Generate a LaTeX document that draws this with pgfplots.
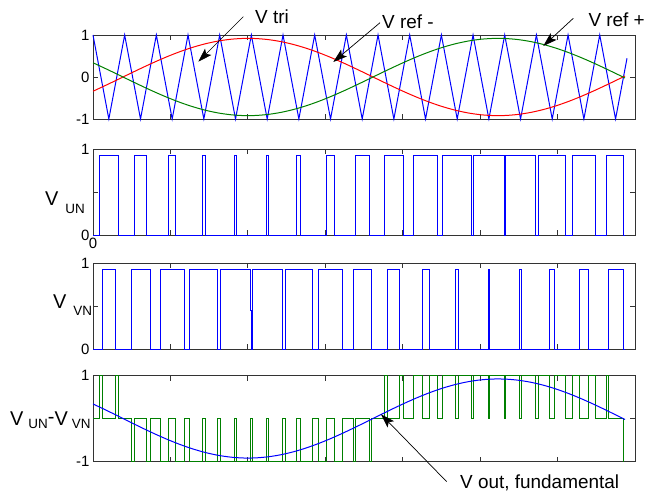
\documentclass[border=0pt]{standalone}
\usepackage{fontspec}
\setmainfont{Liberation Sans}
\usepackage{pgfplots}
\pgfplotsset{compat=1.18}
\usetikzlibrary{arrows.meta}

\definecolor{mblue}{RGB}{0,0,255}
\definecolor{mred}{RGB}{255,0,0}
\definecolor{mgreen}{RGB}{0,128,0}

% switching waveforms of a single-phase PWM bridge
\pgfplotsset{
  panel/.style={
    anchor=north west,
    width=542bp, scale only axis,
    xmin=0, xmax=542,
    xtick={0,77.43,154.86,232.29,309.71,387.14,464.57,542},
    xticklabels={},
    tick pos=both, tick align=inside,
    major tick length=5bp,
    axis line style={line width=0.8bp, black!80},
    every tick/.style={black!80, line width=0.8bp},
    ticklabel style={font=\fontsize{15}{18}\selectfont},
    /pgf/number format/assume math mode=true,
    clip=false,
  },
  sig/.style={line width=1bp},
}

\begin{document}
\begin{tikzpicture}
\useasboundingbox (0,0) rectangle (647bp,-491bp);

% ---- carrier and references ----
\begin{axis}[panel, at={(93bp,-35bp)}, height=84bp,
  ymin=-1, ymax=1, ytick={-1,0,1}, yticklabels={-1,0,1}]
\addplot[sig, mblue] coordinates {
 (0,1) (15.835,-1) (31.67,1) (47.505,-1) (63.34,1) (79.175,-1) (95.01,1)
 (110.845,-1) (126.68,1) (142.515,-1) (158.35,1) (174.185,-1) (190.02,1)
 (205.855,-1) (221.69,1) (237.525,-1) (253.36,1) (269.195,-1) (285.03,1)
 (300.865,-1) (316.70,1) (332.535,-1) (348.37,1) (364.205,-1) (380.04,1)
 (395.875,-1) (411.71,1) (427.545,-1) (443.38,1) (459.215,-1) (475.05,1)
 (490.885,-1) (506.72,1) (522.555,-1) (534,0.4455)};
\addplot[sig, mred, smooth] coordinates {
 (0,-0.3387) (12.5,-0.2007) (25,-0.0578) (37.5,0.0866) (50,0.2288) (62.5,0.3653)
 (75,0.4929) (87.5,0.6084) (100,0.7089) (112.5,0.7918) (125,0.8554) (137.5,0.8978)
 (150,0.9182) (162.5,0.9159) (175,0.8911) (187.5,0.8444) (200,0.7768) (212.5,0.6901)
 (225,0.5864) (237.5,0.4683) (250,0.3387) (262.5,0.2007) (275,0.0578) (287.5,-0.0866)
 (300,-0.2288) (312.5,-0.3653) (325,-0.4929) (337.5,-0.6084) (350,-0.7089) (362.5,-0.7918)
 (375,-0.8554) (387.5,-0.8978) (400,-0.9182) (412.5,-0.9159) (425,-0.8911) (437.5,-0.8444)
 (450,-0.7768) (462.5,-0.6901) (475,-0.5864) (487.5,-0.4683) (500,-0.3387) (512.5,-0.2007)
 (525,-0.0578) (532,0.0231)};
\addplot[sig, mgreen, smooth] coordinates {
 (0,0.3387) (12.5,0.2007) (25,0.0578) (37.5,-0.0866) (50,-0.2288) (62.5,-0.3653)
 (75,-0.4929) (87.5,-0.6084) (100,-0.7089) (112.5,-0.7918) (125,-0.8554) (137.5,-0.8978)
 (150,-0.9182) (162.5,-0.9159) (175,-0.8911) (187.5,-0.8444) (200,-0.7768) (212.5,-0.6901)
 (225,-0.5864) (237.5,-0.4683) (250,-0.3387) (262.5,-0.2007) (275,-0.0578) (287.5,0.0866)
 (300,0.2288) (312.5,0.3653) (325,0.4929) (337.5,0.6084) (350,0.7089) (362.5,0.7918)
 (375,0.8554) (387.5,0.8978) (400,0.9182) (412.5,0.9159) (425,0.8911) (437.5,0.8444)
 (450,0.7768) (462.5,0.6901) (475,0.5864) (487.5,0.4683) (500,0.3387) (512.5,0.2007)
 (525,0.0578) (532,-0.0231)};
\end{axis}

% ---- leg U ----
\begin{axis}[panel, at={(93bp,-149bp)}, height=86bp,
  ymin=0, ymax=1, ytick={0,0.5,1}, yticklabels={0,,1},
  xticklabels={0,,,,,,,}]
\addplot[sig, mblue, const plot] coordinates {
 (0,0) (6.63,0.92) (25.04,0) (41.18,0.92) (53.83,0) (75.48,0.92) (82.87,0)
 (109.12,0.92) (112.57,0) (141.79,0.92) (143.24,0) (173.34,0.92) (175.03,0)
 (203.78,0.92) (207.93,0) (233.31,0.92) (241.74,0) (262.26,0.92) (276.13,0)
 (291.06,0.92) (310.67,0) (320.16,0.92) (344.91,0) (349.94,0.92) (378.47,0)
 (380.73,0.92) (411.03,0) (412.64,0.92) (442.45,0) (445.64,0.92) (472.79,0)
 (479.54,0.92) (502.24,0) (513.95,0.92) (530.5,0) (532,0)};
\end{axis}

% ---- leg V ----
\begin{axis}[panel, at={(93bp,-263bp)}, height=86bp,
  ymin=0, ymax=1, ytick={0,0.5,1}, yticklabels={0,,1}]
\addplot[sig, mblue, const plot] coordinates {
 (0,0) (9.21,0.92) (22.46,0) (38.00,0.92) (57.01,0) (67.04,0.92) (91.31,0)
 (96.74,0.92) (124.95,0) (127.40,0.92) (157.63,0.45) (158.3,0) (159.19,0.92)
 (189.18,0) (192.09,0.92) (219.62,0) (225.90,0.92) (249.15,0) (260.29,0.92)
 (278.10,0) (294.83,0.92) (306.90,0) (329.07,0.92) (336.00,0) (362.64,0.92)
 (365.77,0) (395.19,0.92) (396.56,0) (426.62,0.92) (428.47,0) (456.96,0.92)
 (461.47,0) (486.40,0.92) (495.37,0) (515.33,0.92) (530.2,0) (532,0)};
\end{axis}

% ---- output voltage ----
\begin{axis}[panel, at={(93bp,-375.5bp)}, height=86bp,
  ymin=-1, ymax=1, ytick={-1,0,1}, yticklabels={-1,,1}]
\addplot[sig, mgreen, const plot] coordinates {
 (0,0) (6.63,1) (9.21,0) (22.46,1) (25.04,0) (38.00,-1) (41.18,0) (53.83,-1)
 (57.01,0) (67.04,-1) (75.48,0) (82.87,-1) (91.31,0) (96.74,-1) (109.12,0)
 (112.57,-1) (124.95,0) (127.40,-1) (141.79,0) (143.24,-1) (157.63,0) (159.19,-1)
 (173.34,0) (175.03,-1) (189.18,0) (192.09,-1) (203.78,0) (207.93,-1) (219.62,0)
 (225.90,-1) (233.31,0) (241.74,-1) (249.15,0) (260.29,-1) (262.26,0) (276.13,-1)
 (278.10,0) (291.06,1) (294.83,0) (306.90,1) (310.67,0) (320.16,1) (329.07,0)
 (336.00,1) (344.91,0) (349.94,1) (362.64,0) (365.77,1) (378.47,0) (380.73,1)
 (395.19,0) (396.56,1) (411.03,0) (412.64,1) (426.62,0) (428.47,1) (442.45,0)
 (445.64,1) (456.96,0) (461.47,1) (472.79,0) (479.54,1) (486.40,0) (495.37,1)
 (502.24,0) (513.95,1) (515.33,0) (530.3,-1)};
\addplot[sig, mblue, smooth] coordinates {
 (0,0.3387) (12.5,0.2007) (25,0.0578) (37.5,-0.0866) (50,-0.2288) (62.5,-0.3653)
 (75,-0.4929) (87.5,-0.6084) (100,-0.7089) (112.5,-0.7918) (125,-0.8554) (137.5,-0.8978)
 (150,-0.9182) (162.5,-0.9159) (175,-0.8911) (187.5,-0.8444) (200,-0.7768) (212.5,-0.6901)
 (225,-0.5864) (237.5,-0.4683) (250,-0.3387) (262.5,-0.2007) (275,-0.0578) (287.5,0.0866)
 (300,0.2288) (312.5,0.3653) (325,0.4929) (337.5,0.6084) (350,0.7089) (362.5,0.7918)
 (375,0.8554) (387.5,0.8978) (400,0.9182) (412.5,0.9159) (425,0.8911) (437.5,0.8444)
 (450,0.7768) (462.5,0.6901) (475,0.5864) (487.5,0.4683) (500,0.3387) (512.5,0.2007)
 (525,0.0578) (532,-0.0231)};
\end{axis}

% ---- axis labels ----
\begin{scope}[every node/.style={inner sep=0pt, font=\fontsize{20}{24}\selectfont}]
\node[anchor=base west] at (45bp,-205bp)
  {V\hspace{7bp}\raisebox{-8bp}{\fontsize{13.5}{16}\selectfont UN}};
\node[anchor=base west] at (53bp,-308bp)
  {V\hspace{7bp}\raisebox{-7bp}{\fontsize{13.5}{16}\selectfont VN}};
\node[anchor=base west] at (10bp,-425bp)
  {V\hspace{5bp}\raisebox{-3bp}{\fontsize{13.5}{16}\selectfont UN}\raisebox{2bp}{-}V\hspace{4bp}\raisebox{-3bp}{\fontsize{13.5}{16}\selectfont VN}};
\end{scope}

% ---- annotations ----
\begin{scope}[every node/.style={inner sep=0pt, font=\fontsize{19}{23}\selectfont}]
\node[anchor=base west] at (255bp,-23bp) {V tri};
\node[anchor=base west] at (382bp,-28bp) {V ref -};
\node[anchor=base east] at (645bp,-26bp) {V ref +};
\node[anchor=base west] at (460bp,-488bp) {V out, fundamental};
\end{scope}
\begin{scope}[line width=0.7bp, -{Stealth[length=14bp, width=9bp, inset=3bp]}]
\draw (243.3bp,-16.7bp) -- (198.3bp,-61.7bp);
\draw (380bp,-22.7bp) -- (333.3bp,-62bp);
\draw (573.3bp,-18.3bp) -- (543.3bp,-46bp);
\draw (446.7bp,-481.7bp) -- (381bp,-414.3bp);
\end{scope}
\end{tikzpicture}
\end{document}
